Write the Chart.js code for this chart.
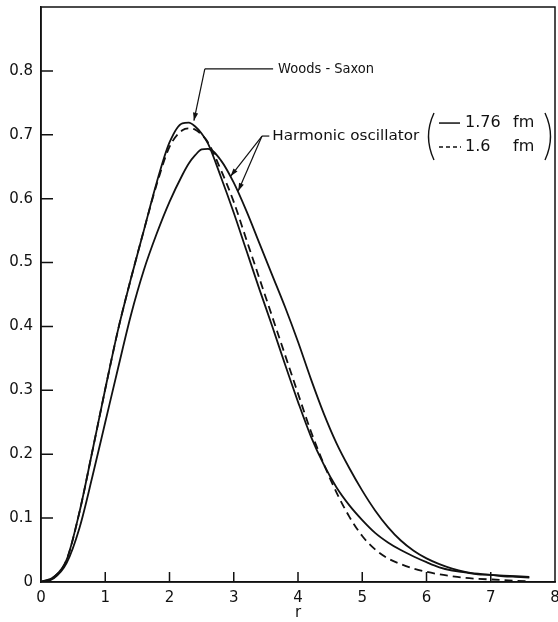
<!DOCTYPE html>
<html><head><meta charset="utf-8">
<script src="https://cdn.jsdelivr.net/npm/chart.js@4.4.0/dist/chart.umd.min.js"></script>
<style>html,body{margin:0;padding:0;background:#fff;}#wrap{width:558px;height:622px;}</style>
</head><body><div id="wrap"><canvas id="c" width="558" height="622"></canvas></div>
<script>
// ---- data ----
const r = [0,0.2,0.4,0.6,0.8,1.0,1.2,1.4,1.6,1.8,2.0,2.2,2.3,2.4,2.5,2.6,2.8,3.0,3.2,3.4,3.6,3.8,4.0,4.2,4.4,4.6,4.8,5.0,5.2,5.4,5.6,5.8,6.0,6.2,6.4,6.6,6.8,7.0,7.2,7.4,7.6];
const woodsSaxon = [0,0.008,0.035,0.11,0.205,0.302,0.395,0.475,0.55,0.625,0.688,0.718,0.719,0.713,0.702,0.686,0.634,0.578,0.518,0.458,0.40,0.34,0.282,0.228,0.184,0.148,0.12,0.097,0.077,0.062,0.05,0.04,0.031,0.023,0.018,0.015,0.012,0.011,0.009,0.008,0.007];
const hoWide = [0,0.006,0.03,0.085,0.165,0.25,0.335,0.418,0.488,0.545,0.595,0.637,0.655,0.668,0.677,0.678,0.66,0.625,0.58,0.53,0.48,0.43,0.376,0.318,0.264,0.217,0.178,0.143,0.112,0.086,0.065,0.049,0.037,0.028,0.021,0.016,0.013,0.011,0.010,0.009,0.008];
const hoNarrow = [0,0.008,0.035,0.11,0.205,0.302,0.395,0.475,0.55,0.622,0.681,0.707,0.71,0.708,0.70,0.688,0.645,0.595,0.535,0.475,0.415,0.355,0.295,0.236,0.185,0.14,0.102,0.072,0.051,0.037,0.028,0.021,0.016,0.012,0.009,0.0065,0.005,0.004,0.003,0.002,0.001];
const xTickValues = [0,1,2,3,4,5,6,7,8];
const yTickValues = [0,0.1,0.2,0.3,0.4,0.5,0.6,0.7,0.8];
const xTitle = 'r';
const wsLabel = 'Woods - Saxon';
const hoLabel = 'Harmonic oscillator';
const legendWide = ['1.76', 'fm'];
const legendNarrow = ['1.6', 'fm'];

const INK = '#111';
const FONT = '"DejaVu Sans", sans-serif';

function pts(vals){ return r.map((x,i)=>({x:x, y:vals[i]})); }

const deco = {
  id:'deco',
  afterDraw(chart){
    const ctx = chart.ctx, a = chart.chartArea;
    const xs = chart.scales.x, ys = chart.scales.y;
    const P = (rv, v) => [xs.getPixelForValue(rv), ys.getPixelForValue(v)];
    ctx.save();
    ctx.strokeStyle = INK; ctx.fillStyle = INK; ctx.lineWidth = 1.5;
    // frame
    ctx.strokeRect(a.left, a.top, a.right - a.left, a.bottom - a.top);
    // inward ticks
    ctx.beginPath();
    xTickValues.forEach(v => { if (v>0 && v<8){ const x = xs.getPixelForValue(v); ctx.moveTo(x, a.bottom); ctx.lineTo(x, a.bottom - 10);} });
    yTickValues.forEach(v => { if (v>0){ const y = ys.getPixelForValue(v); ctx.moveTo(a.left, y); ctx.lineTo(a.left + 12, y);} });
    ctx.stroke();

    function arrow(from, to){
      ctx.beginPath(); ctx.moveTo(from[0], from[1]); ctx.lineTo(to[0], to[1]); ctx.stroke();
      const ang = Math.atan2(to[1]-from[1], to[0]-from[0]);
      const L = 8, W = 2.6;
      ctx.beginPath();
      ctx.moveTo(to[0], to[1]);
      ctx.lineTo(to[0] - L*Math.cos(ang) + W*Math.sin(ang), to[1] - L*Math.sin(ang) - W*Math.cos(ang));
      ctx.lineTo(to[0] - L*Math.cos(ang) - W*Math.sin(ang), to[1] - L*Math.sin(ang) + W*Math.cos(ang));
      ctx.closePath(); ctx.fill();
    }
    function fitText(t, x, y, w){
      const nw = ctx.measureText(t).width;
      ctx.save(); ctx.translate(x, y); ctx.scale(w / nw, 1); ctx.fillText(t, 0, 0); ctx.restore();
    }
    ctx.lineWidth = 1.2;
    ctx.font = '14px ' + FONT; ctx.textBaseline = 'middle'; ctx.textAlign = 'left';
    // Woods-Saxon leader
    const wsText = P(3.69, 0.803), wsCorner = P(2.55, 0.803), wsTip = P(2.38, 0.722);
    ctx.beginPath(); ctx.moveTo(wsText[0]-5, wsText[1]); ctx.lineTo(wsCorner[0], wsCorner[1]); ctx.stroke();
    arrow(wsCorner, wsTip);
    fitText(wsLabel, wsText[0], wsText[1], 96);
    // Harmonic oscillator leader
    const hoText = P(3.60, 0.698), hoCorner = P(3.44, 0.698);
    ctx.beginPath(); ctx.moveTo(hoText[0]-3, hoText[1]); ctx.lineTo(hoCorner[0], hoCorner[1]); ctx.stroke();
    arrow(hoCorner, P(2.95, 0.635));
    arrow(hoCorner, P(3.07, 0.612));
    fitText(hoLabel, hoText[0], hoText[1], 147);
    // bracketed line-style key
    const top = hoText[1] - 23, bot = hoText[1] + 24;
    const pl = 434, pr = 545;
    ctx.lineWidth = 1.4;
    ctx.beginPath(); ctx.moveTo(pl, top); ctx.quadraticCurveTo(pl - 11, (top+bot)/2, pl, bot); ctx.stroke();
    ctx.beginPath(); ctx.moveTo(pr, top); ctx.quadraticCurveTo(pr + 11, (top+bot)/2, pr, bot); ctx.stroke();
    const y1 = hoText[1] - 13, y2 = hoText[1] + 11;
    ctx.lineWidth = 1.5;
    ctx.beginPath(); ctx.moveTo(439, y1); ctx.lineTo(460, y1); ctx.stroke();
    ctx.setLineDash([4,3]);
    ctx.beginPath(); ctx.moveTo(439, y2); ctx.lineTo(461, y2); ctx.stroke();
    ctx.setLineDash([]);
    ctx.font = '16px ' + FONT;
    ctx.fillText(legendWide[0], 465, y1);
    ctx.fillText(legendWide[1], 513, y1);
    ctx.fillText(legendNarrow[0], 465, y2);
    ctx.fillText(legendNarrow[1], 513, y2);
    ctx.restore();
  }
};

new Chart(document.getElementById('c'), {
  type: 'line',
  data: { datasets: [
    { label: wsLabel, data: pts(woodsSaxon), borderColor: INK, borderWidth: 1.8, pointRadius: 0, fill: false, cubicInterpolationMode: 'monotone' },
    { label: hoLabel + ' 1.76 fm', data: pts(hoWide), borderColor: INK, borderWidth: 1.8, pointRadius: 0, fill: false, cubicInterpolationMode: 'monotone' },
    { label: hoLabel + ' 1.6 fm', data: pts(hoNarrow), borderColor: INK, borderWidth: 1.8, borderDash: [8,5], pointRadius: 0, fill: false, cubicInterpolationMode: 'monotone' }
  ]},
  options: {
    responsive: false, animation: false, devicePixelRatio: 1,
    layout: { padding: { top: 7, right: 3, left: 0, bottom: 0 } },
    plugins: { legend: { display: false }, tooltip: { enabled: false } },
    scales: {
      x: {
        type: 'linear', min: 0, max: 8,
        afterBuildTicks: s => { s.ticks = xTickValues.map(v => ({value: v})); },
        ticks: { color: INK, font: { family: FONT, size: 15 }, padding: 7, maxRotation: 0, autoSkip: false },
        grid: { display: false, drawTicks: false },
        border: { display: true, color: INK, width: 1.5 },
        title: { display: true, text: xTitle, color: INK, font: { family: FONT, size: 15 }, padding: { top: 0, bottom: 0 } },
        afterFit: s => { s.height = 40; s.paddingLeft = 0; s.paddingRight = 0; }
      },
      y: {
        type: 'linear', min: 0, max: 0.9,
        afterBuildTicks: s => { s.ticks = yTickValues.map(v => ({value: v})); },
        ticks: { color: INK, font: { family: FONT, size: 15 }, padding: 8, callback: v => v === 0 ? '0' : Number(v).toFixed(1) },
        grid: { display: false, drawTicks: false },
        border: { display: true, color: INK, width: 1.5 },
        afterFit: s => { s.width = 41; s.paddingTop = 0; s.paddingBottom = 0; }
      }
    }
  },
  plugins: [deco]
});
</script></body></html>
